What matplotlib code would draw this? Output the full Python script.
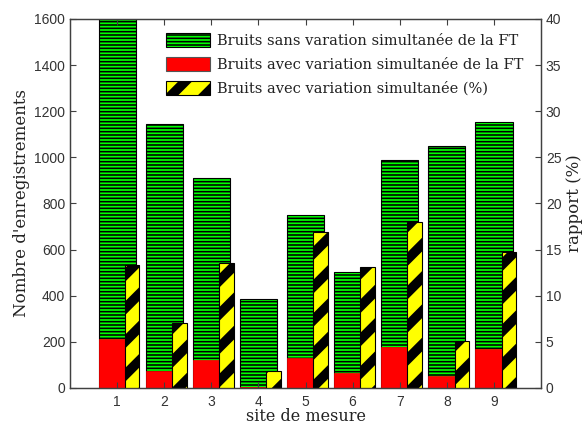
import matplotlib
matplotlib.use('Agg')
import numpy as np
import matplotlib.pyplot as plt
from matplotlib.patches import Patch

# Mesures par site
sites = [1, 2, 3, 4, 5, 6, 7, 8, 9]
bruits_sans = [1600, 1145, 910, 385, 752, 505, 990, 1051, 1155]
bruits_avec = [211, 75, 123, 6, 128, 67, 179, 53, 169]
rapport = [13.3, 7.0, 13.6, 1.8, 16.9, 13.1, 18.0, 5.1, 14.7]

labels = ['Bruits sans varation simultanée de la FT',
          'Bruits avec variation simultanée de la FT',
          'Bruits avec variation simultanée (%)']

x = np.array(sites, dtype=float)
axis_col = '#404040'
green_lw = 1.15
stripe_lw = 7.0


def hatch_lw(artists, lw):
    for a in artists:
        if hasattr(a, 'set_hatch_linewidth'):
            a.set_hatch_linewidth(lw)
        elif hasattr(a, '_hatch_linewidth'):
            a._hatch_linewidth = lw


fig = plt.figure(figsize=(5.82, 4.25), dpi=100)
ax = fig.add_axes([0.1203, 0.0871, 0.8093, 0.8682])
ax2 = ax.twinx()

with plt.rc_context({'hatch.linewidth': green_lw}):
    g = ax.bar(x, bruits_sans, width=0.79, color='#00ff00', edgecolor='black',
               linewidth=0.8, hatch='-----')
hatch_lw(g, green_lw)
r = ax.bar(x - 0.395, bruits_avec, width=0.56, align='edge', color='#ff0000',
           edgecolor='#ff0000', linewidth=0.5)
with plt.rc_context({'hatch.linewidth': stripe_lw}):
    y = ax2.bar(x + 0.165, rapport, width=0.31, align='edge', color='#ffff00',
                edgecolor='black', linewidth=0.8, hatch='/')
hatch_lw(y, stripe_lw)

ax.set_xlim(0, 10)
ax.set_ylim(0, 1600)
ax2.set_ylim(0, 40)
ax.set_xticks(sites)
ax.set_yticks(range(0, 1601, 200))
ax2.set_yticks(range(0, 41, 5))

tick_font = {'family': 'Liberation Sans', 'size': 10}
for a in (ax, ax2):
    a.tick_params(direction='in', length=4, color=axis_col, labelcolor='#333333',
                  width=0.8)
    for lab in a.get_xticklabels() + a.get_yticklabels():
        lab.set_fontproperties(tick_font)
    for s in a.spines.values():
        s.set_color(axis_col)
        s.set_linewidth(0.9)
ax.tick_params(axis='x', top=True, pad=5)

label_col = '#222222'
ax.set_xlabel('site de mesure', family='DejaVu Serif', size=11.5,
              color=label_col, labelpad=-1)
ax.set_ylabel("Nombre d'enregistrements", family='DejaVu Serif', size=12,
              color=label_col, labelpad=3)
ax2.set_ylabel('rapport (%)', family='DejaVu Serif', size=12,
               color=label_col, labelpad=3)

handles = [
    Patch(facecolor='#00ff00', edgecolor='black', hatch='-----', linewidth=0.8),
    Patch(facecolor='#ff0000', edgecolor='#555555', linewidth=0.8),
    Patch(facecolor='#ffff00', edgecolor='black', hatch='/', linewidth=0.8),
]
with plt.rc_context({'hatch.linewidth': green_lw}):
    leg = ax2.legend(handles, labels, loc='upper left',
                     bbox_to_anchor=(166 / 582, 1 - 33 / 425),
                     bbox_transform=fig.transFigure, frameon=False,
                     borderpad=0, borderaxespad=0, handlelength=3.0,
                     handleheight=1.1, handletextpad=0.5, labelspacing=0.62,
                     prop={'family': 'DejaVu Serif', 'size': 10.5})
for t in leg.get_texts():
    t.set_color(label_col)
hatch_lw(leg.legend_handles[2:], stripe_lw)

fig.savefig('out.png', dpi=100)
